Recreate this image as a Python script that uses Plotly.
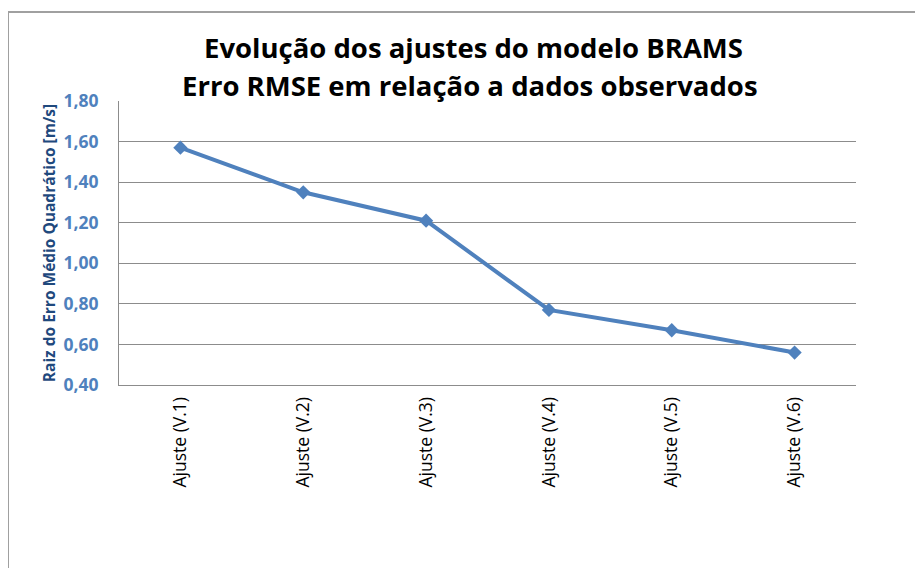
import plotly.graph_objects as go

categories = ["Ajuste (V.1)", "Ajuste (V.2)", "Ajuste (V.3)", "Ajuste (V.4)", "Ajuste (V.5)", "Ajuste (V.6)"]
rmse = [1.57, 1.35, 1.21, 0.77, 0.67, 0.56]
y_ticks = [0.40, 0.60, 0.80, 1.00, 1.20, 1.40, 1.60, 1.80]
y_tick_labels = ["0,40", "0,60", "0,80", "1,00", "1,20", "1,40", "1,60", "1,80"]
title_lines = ["Evolução dos ajustes do modelo BRAMS", "Erro RMSE em relação a dados observados"]
y_title = "Raiz do Erro Médio Quadrático [m/s]"

# page has an 8px body margin; work in page pixels and shift
OFF = 8
W, H = 923 - OFF, 568 - OFF
ml, mr, mt, mb = 119 - OFF, 67, 101 - OFF, 183

fig = go.Figure()
fig.add_trace(go.Scatter(
    x=categories, y=rmse, mode="lines+markers",
    line=dict(color="#4F81BD", width=4),
    marker=dict(symbol="diamond", size=11, color="#4F81BD"),
    showlegend=False,
))

pw = W - ml - mr
ph = H - mt - mb
def px_x(p):
    return (p - OFF - ml) / pw
def px_y(p):
    return (H - mb - (p - OFF)) / ph

font_main = "'Open Sans', sans-serif"

fig.update_layout(
    width=W, height=H,
    margin=dict(l=ml, r=mr, t=mt, b=mb),
    paper_bgcolor="white", plot_bgcolor="white",
    font=dict(family=font_main),
    xaxis=dict(
        type="category", range=[-0.5, 5.5],
        tickangle=-90, tickfont=dict(size=17.5, color="#000000", family=font_main),
        showgrid=False, showline=True, linecolor="#8C8C8C", linewidth=1,
        ticks="", zeroline=False, ticklabelstandoff=4,
    ),
    yaxis=dict(
        range=[0.40, 1.80], tickvals=y_ticks, ticktext=y_tick_labels,
        tickfont=dict(size=17.5, color="#4F81BD", family=font_main, weight="bold"),
        showgrid=True, gridcolor="#8C8C8C", gridwidth=1,
        showline=True, linecolor="#8C8C8C", linewidth=1,
        ticks="", ticklen=0, zeroline=False, ticklabelstandoff=16,
        title=dict(text=y_title, font=dict(size=15.5, color="#1F497D", family=font_main, weight="bold"), standoff=4),
    ),
    annotations=[
        dict(text=title_lines[0], x=px_x(473), y=px_y(47), xref="paper", yref="paper",
             showarrow=False, xanchor="center", yanchor="middle",
             font=dict(size=27.5, color="#000000", family=font_main, weight="bold")),
        dict(text=title_lines[1], x=px_x(470), y=px_y(85), xref="paper", yref="paper",
             showarrow=False, xanchor="center", yanchor="middle",
             font=dict(size=27.5, color="#000000", family=font_main, weight="bold")),
    ],
    shapes=[
        dict(type="line", xref="paper", yref="paper", x0=px_x(8), x1=px_x(923), y0=px_y(12), y1=px_y(12),
             line=dict(color="#A0A0A0", width=2)),
        dict(type="line", xref="paper", yref="paper", x0=px_x(8), x1=px_x(8), y0=px_y(12), y1=px_y(568),
             line=dict(color="#A0A0A0", width=2)),
    ],
)

fig.write_html("out.html")
